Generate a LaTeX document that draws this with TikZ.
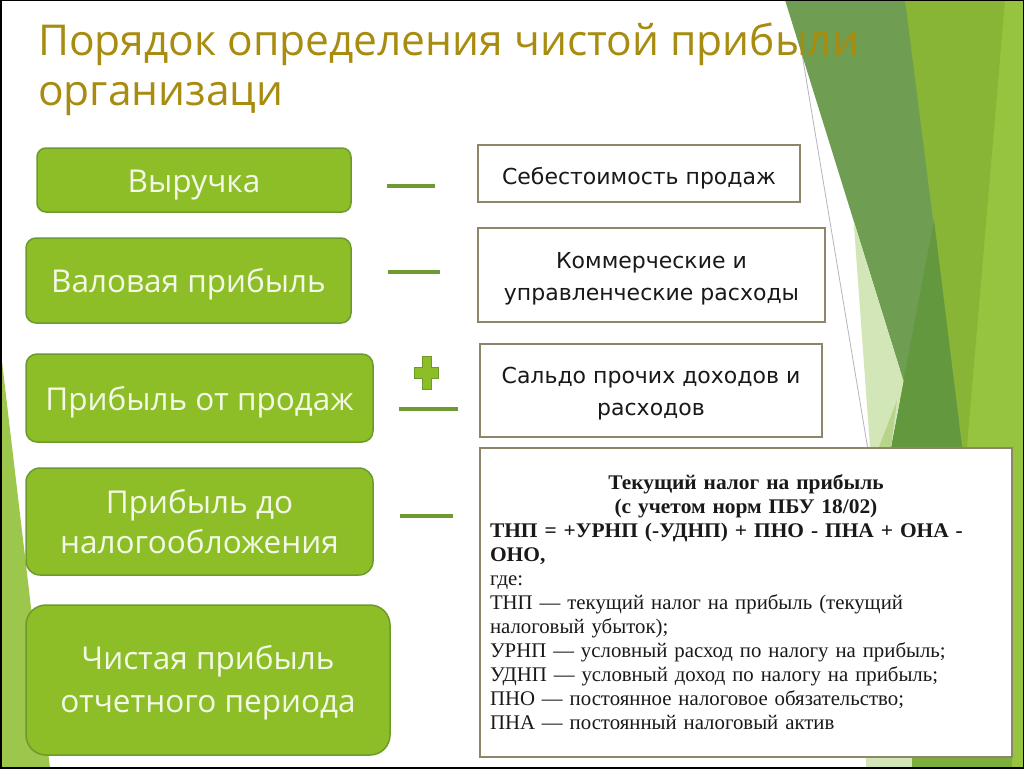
\documentclass[tikz,border=0pt]{standalone}
\usepackage{fontspec}
\setmainfont{Open Sans}
\newfontfamily\rfont{DejaVu Sans}
\newfontfamily\sfont[BoldFeatures={FakeStretch=1.03}]{Liberation Serif}
\definecolor{titlegold}{HTML}{A88C10}
\definecolor{boxgreen}{HTML}{8DBE28}
\definecolor{boxedge}{HTML}{6C9A2C}
\definecolor{rboxedge}{HTML}{8E866A}
\definecolor{minusgreen}{HTML}{6F9A33}
\definecolor{decoMuted}{HTML}{6F9D52}
\definecolor{decoDark}{HTML}{63983F}
\definecolor{decoYellow}{HTML}{88B535}
\definecolor{decoBright}{HTML}{97C43F}
\definecolor{decoPale}{HTML}{D3E6B7}
\definecolor{decoPaleB}{HTML}{B7D48A}
\definecolor{decoLeft}{HTML}{9CC64C}
\definecolor{decoBottom}{HTML}{7CAE3C}
\definecolor{boxtext}{HTML}{F3F9E6}
\definecolor{faintline}{HTML}{B4B6C6}
\begin{document}
\begin{tikzpicture}[x=1pt,y=-1pt,
  gbox/.style={draw=boxedge, line width=1.5pt, fill=boxgreen, text=boxtext, align=center,
    font=\fontsize{31.5}{40}\selectfont, inner sep=0pt},
  gone/.style={gbox, text height=24pt, text depth=0pt},
  rbox/.style={draw=rboxedge, line width=2pt, fill=white, text=black!90, align=center,
    font=\rfont\fontsize{22}{32}\selectfont, inner sep=0pt},
  rone/.style={rbox, text height=22pt, text depth=0pt},
  minussign/.style={draw=minusgreen, line width=4pt},
]
\useasboundingbox (0,0) rectangle (1024,768);
\fill[white] (0,0) rectangle (1024,768);
% --- decoration ---
\draw[faintline, line width=0.8pt] (793,0) -- (921,768);
\fill[decoLeft] (0,345) -- (50,768) -- (0,768) -- cycle;
\fill[decoBright] (900,0) rectangle (1024,768);
\fill[decoYellow] (905,0) -- (1005,0) -- (965,470) -- cycle;
\fill[decoMuted] (785,0) -- (905,0) -- (962,447) -- (924,447) -- cycle;
\fill[decoDark] (934,220) -- (962,447) -- (891,447) -- cycle;
\fill[decoPale] (853.6,220.7) -- (903.5,381) -- (891,447) -- (870,447) -- cycle;
\fill[decoPaleB] (897,400) -- (891,447) -- (879,447) -- cycle;
\fill[decoPale] (866,757) rectangle (912,768);
\fill[decoBottom] (912,757) rectangle (1012,768);
% --- title ---
\node[anchor=north west, text=titlegold, font=\fontsize{42.5}{50}\selectfont, align=left,
  inner sep=0pt] (title) at (38,23) {Порядок определения чистой прибыли\\организаци};
% --- left boxes ---
\node[gone, rounded corners=9pt, minimum width=314, minimum height=64] (b1) at (194,180) {Выручка};
\node[gone, rounded corners=10pt, minimum width=325, minimum height=85] (b2) at (188.5,280.5) {Валовая прибыль};
\node[gone, rounded corners=11pt, minimum width=347, minimum height=88] (b3) at (199.5,398) {Прибыль от продаж};
\node[gbox, rounded corners=14pt, minimum width=347, minimum height=107] (b4) at (199.5,521.5) {Прибыль до\\налогообложения};
\node[gbox, rounded corners=20pt, minimum width=364, minimum height=150, font=\fontsize{31.5}{43}\selectfont] (b5) at (208,680) {\rule{0pt}{30pt}Чистая прибыль\\отчетного периода};
% --- right boxes ---
\node[rone, minimum width=322, minimum height=57] (r1) at (639,173.5) {Себестоимость продаж};
\node[rbox, minimum width=347, minimum height=94] (r2) at (651.5,275) {\rule{0pt}{23pt}Коммерческие и\\управленческие расходы};
\node[rbox, minimum width=342, minimum height=93] (r3) at (651,390.5) {\rule{0pt}{23pt}Сальдо прочих доходов и\\расходов};
\node[rbox, minimum width=532, minimum height=309, text width=512, align=left,
  font=\sfont\fontsize{20.8}{24}\selectfont] (r4) at (746,602.5) {%
{\centering\bfseries Текущий налог на прибыль\\(с учетом норм ПБУ 18/02)\par}
{\bfseries ТНП = +УРНП (-УДНП) + ПНО - ПНА + ОНА -\\ОНО,\par}
где:\\
ТНП — текущий налог на прибыль (текущий\\
налоговый убыток);\\
УРНП — условный расход по налогу на прибыль;\\
УДНП — условный доход по налогу на прибыль;\\
ПНО — постоянное налоговое обязательство;\\
ПНА — постоянный налоговый актив};
% --- operators ---
\draw[minussign] (387,186) -- (435,186);
\draw[minussign] (388,272) -- (440,272);
\fill[boxgreen, draw=boxedge, line width=1pt]
  (422,356) -- (431,356) -- (431,367) -- (438,367) -- (438,378) -- (431,378) -- (431,389)
  -- (422,389) -- (422,378) -- (414,378) -- (414,367) -- (422,367) -- cycle;
\draw[minussign] (399,409) -- (458,409);
\draw[minussign] (400,516) -- (453,516);
% frame
\draw[black, line width=3pt] (0,0) rectangle (1024,768);
\end{tikzpicture}
\end{document}
